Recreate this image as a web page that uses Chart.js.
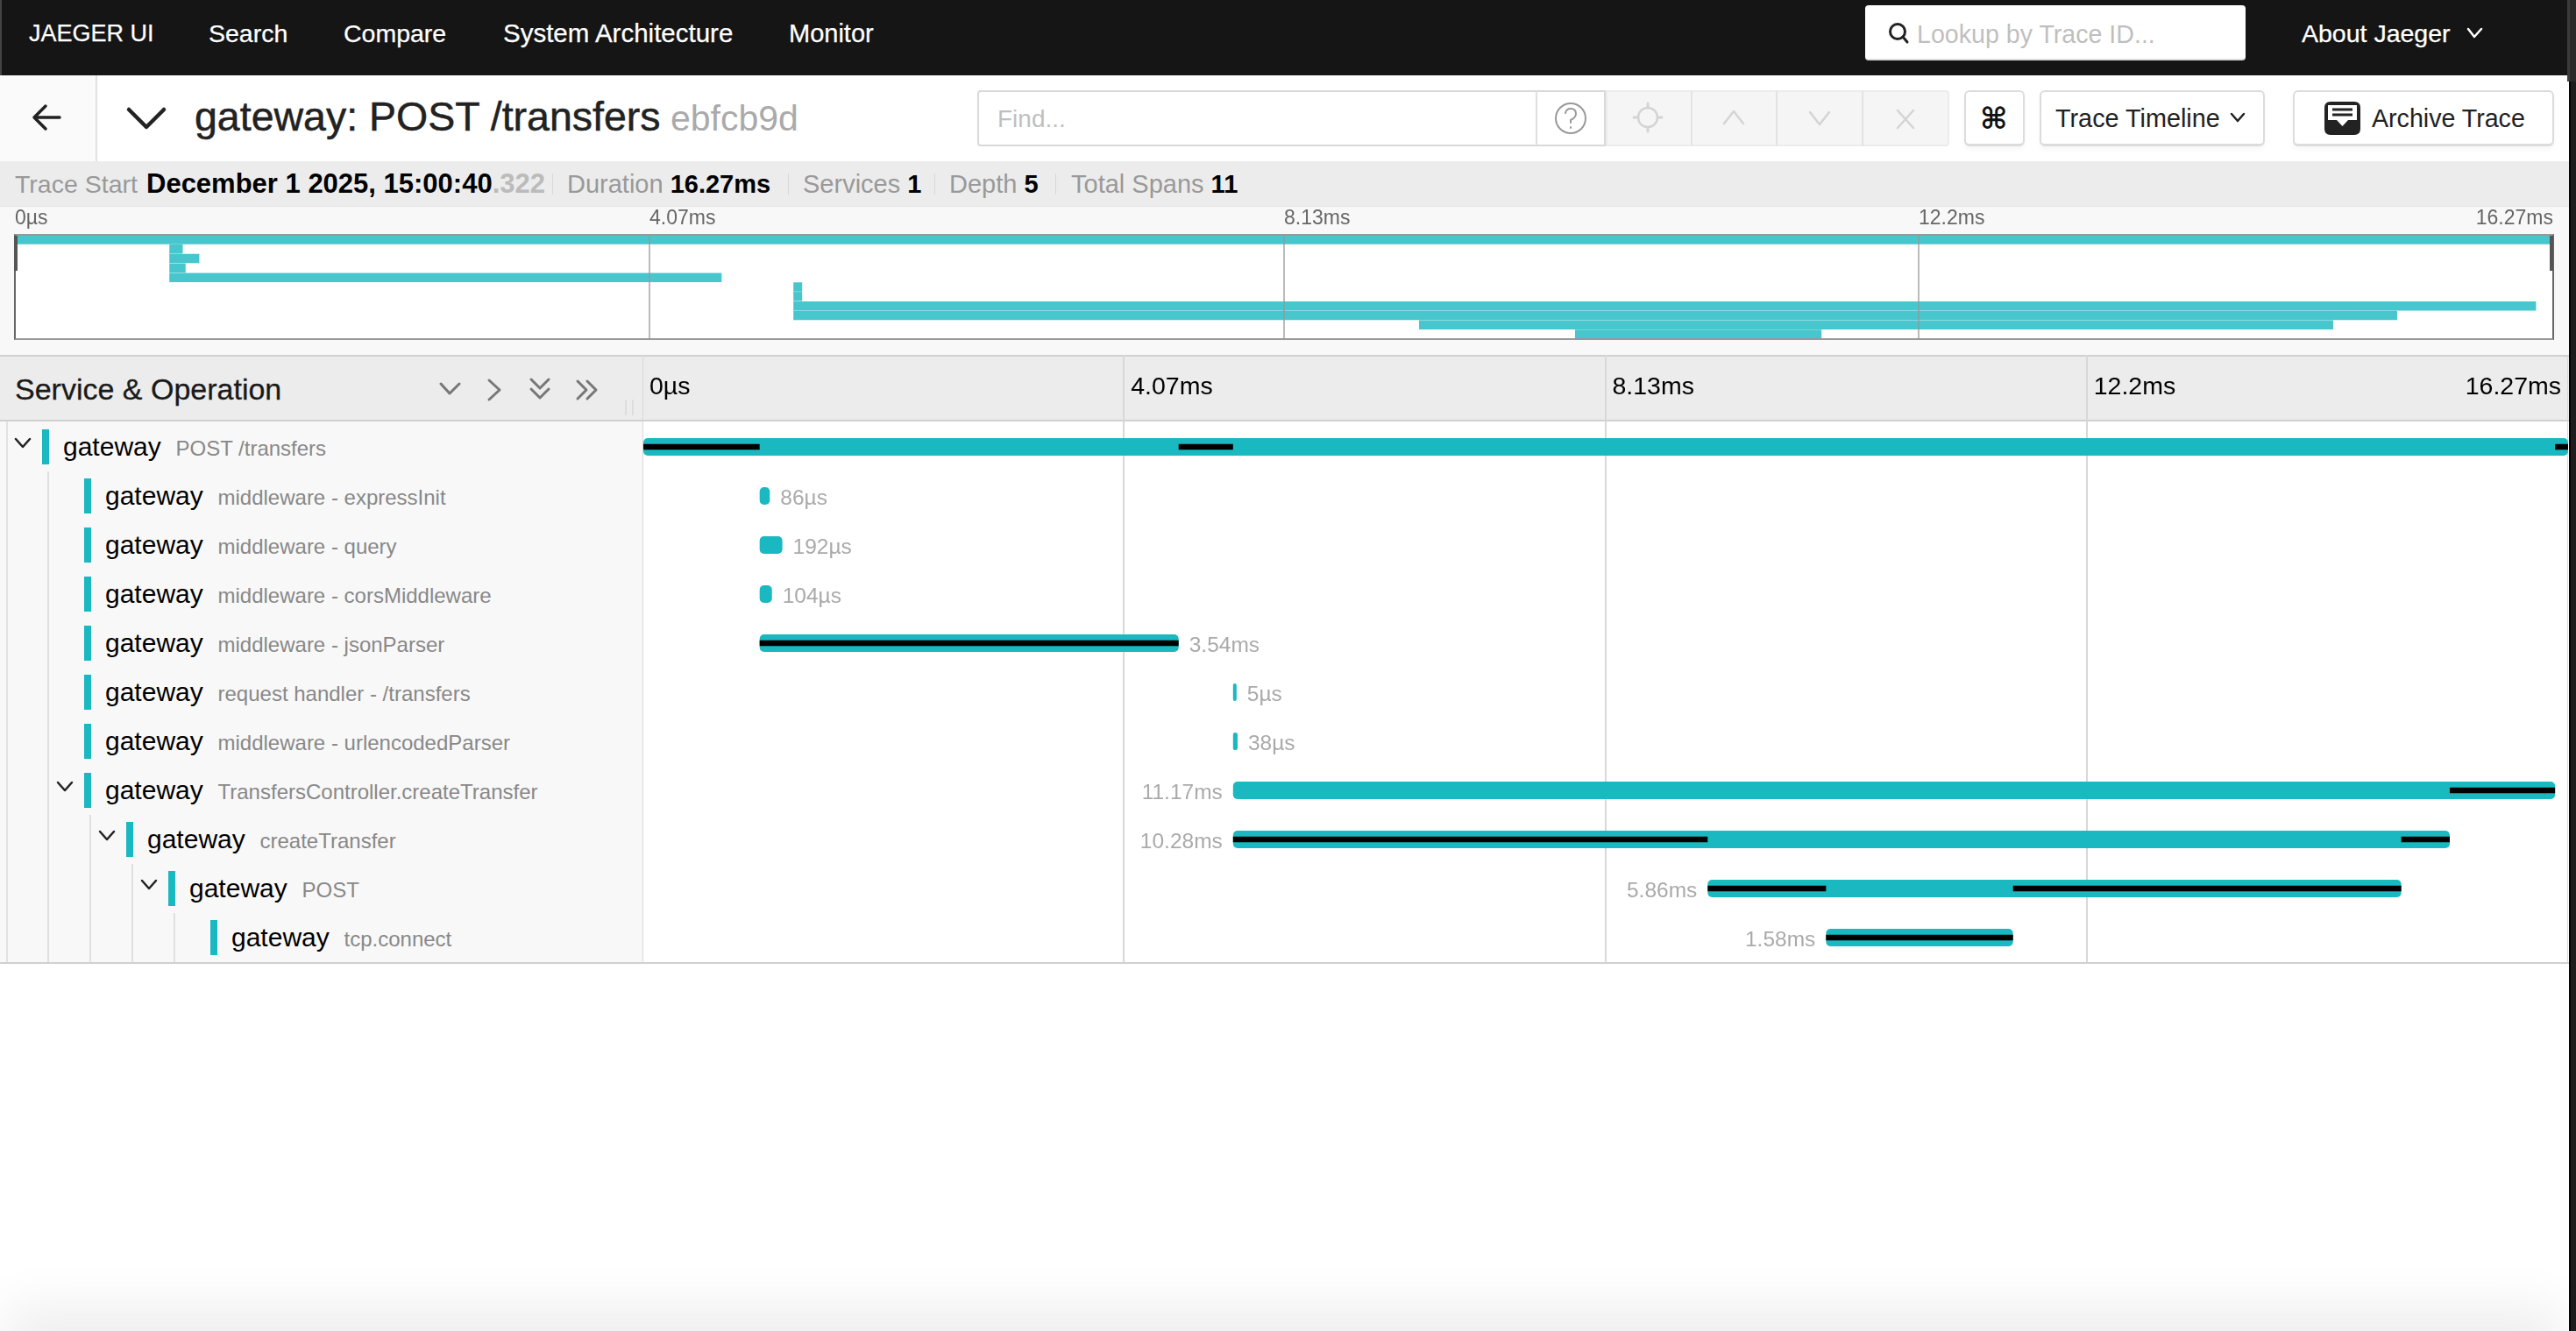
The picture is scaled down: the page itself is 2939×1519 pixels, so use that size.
<!DOCTYPE html>
<html>
<head>
<meta charset="utf-8">
<title>gateway: POST /transfers</title>
<script src="https://cdn.jsdelivr.net/npm/chart.js@4"></script>
<style>
  html, body { margin: 0; padding: 0; background: #fff; }
  body { position: relative; width: 2939px; height: 1519px; overflow: hidden; font-family: "Liberation Sans", sans-serif; color: #1a1a1a; }
  .box { position: absolute; box-sizing: border-box; }
  .t { position: absolute; white-space: nowrap; transform: translateY(-50%); line-height: 1.2; }
  .nav { font-size: 28.5px; color: #fff; top: 38px; -webkit-text-stroke: .25px #fff; }
  .sum { font-size: 29px; color: #999; top: 210px; }
  .sum b { color: #000; }
  .btn { position: absolute; box-sizing: border-box; top: 103px; height: 64px; background: #fff; border: 2px solid #dcdcdc; border-bottom-width: 3px; border-radius: 6px; box-shadow: 0 4px 5px rgba(0,0,0,.03); }
  .svc { font-size: 30px; color: #000; }
  .op { font-size: 24px; color: #888; }
  canvas { position: absolute; display: block; }
  svg { position: absolute; left: 0; top: 0; pointer-events: none; }
</style>
</head>
<body>
<!-- top nav -->
<div class="box" style="left:0;top:0;width:2929px;height:86px;background:#151515"></div>
<div class="t nav" style="left:33px;font-size:27px">JAEGER UI</div>
<div class="t nav" style="left:238px">Search</div>
<div class="t nav" style="left:392px">Compare</div>
<div class="t nav" style="left:574px;font-size:29.5px">System Architecture</div>
<div class="t nav" style="left:900px;font-size:29px">Monitor</div>
<div class="box" style="left:2128px;top:6px;width:434px;height:63px;background:#fff;border-radius:4px;border-bottom:2px solid #ddd"></div>
<div class="t" style="left:2187px;top:39px;font-size:28.6px;color:#bfbfbf">Lookup by Trace ID...</div>
<div class="t nav" style="left:2626px">About Jaeger</div>

<!-- trace header -->
<div class="box" style="left:0;top:86px;width:111px;height:98px;background:#fafafa;border-right:2px solid #e2e2e2"></div>
<div class="t" style="left:222px;top:134px;font-size:46.5px;color:#222;-webkit-text-stroke:.5px #222">gateway: POST /transfers</div>
<div class="t" style="left:765px;top:136px;font-size:41px;color:#aaa">ebfcb9d</div>
<div class="box" style="left:1115px;top:103px;width:717px;height:64px;background:#fff;border:2px solid #d9d9d9;border-radius:4px 0 0 4px"></div>
<div class="box" style="left:1752px;top:104px;width:2px;height:62px;background:#e0e0e0"></div>
<div class="t" style="left:1138px;top:136px;font-size:28px;color:#bfbfbf">Find...</div>
<div class="box" style="left:1832px;top:103px;width:392px;height:64px;background:#f5f5f5;border:2px solid #ececec;border-radius:0 4px 4px 0"></div>
<div class="box" style="left:1929px;top:104px;width:2px;height:62px;background:#e2e2e2"></div>
<div class="box" style="left:2026px;top:104px;width:2px;height:62px;background:#e2e2e2"></div>
<div class="box" style="left:2124px;top:104px;width:2px;height:62px;background:#e2e2e2"></div>
<div class="btn" style="left:2241px;width:69px"></div>
<div class="t" style="left:2259px;top:135px;font-family:'DejaVu Sans';font-size:34px;font-weight:bold;color:#111">⌘</div>
<div class="btn" style="left:2327px;width:257px"></div>
<div class="t" style="left:2345px;top:135px;font-size:28.8px;color:#222">Trace Timeline</div>
<div class="btn" style="left:2616px;width:298px"></div>
<div class="t" style="left:2706px;top:135px;font-size:28.6px;color:#222">Archive Trace</div>

<!-- summary row -->
<div class="box" style="left:0;top:184px;width:2931px;height:51px;background:#ececec"></div>
<div class="t sum" style="left:17px;font-size:28.5px">Trace Start</div>
<div class="t sum" style="left:167px;font-size:31px"><b>December 1 2025, 15:00:40</b><b style="color:#bbb">.322</b></div>
<div class="box" style="left:630px;top:198px;width:1px;height:24px;background:#d8d8d8"></div>
<div class="t sum" style="left:647px">Duration <b>16.27ms</b></div>
<div class="box" style="left:899px;top:198px;width:1px;height:24px;background:#d8d8d8"></div>
<div class="t sum" style="left:916px">Services <b>1</b></div>
<div class="box" style="left:1066px;top:198px;width:1px;height:24px;background:#d8d8d8"></div>
<div class="t sum" style="left:1083px">Depth <b>5</b></div>
<div class="box" style="left:1204px;top:198px;width:1px;height:24px;background:#d8d8d8"></div>
<div class="t sum" style="left:1222px">Total Spans <b>11</b></div>

<!-- minimap -->
<div class="box" style="left:0;top:235px;width:2931px;height:170px;background:#f8f8f8;border-top:1px solid #e4e4e4"></div>
<div class="box" style="left:17px;top:268px;width:2896px;height:120px;background:#fff"></div>
<canvas id="minimap" width="2896" height="152" style="left:17px;top:235px"></canvas>
<div class="box" style="left:16px;top:267px;width:2898px;height:121px;border:solid #999;border-width:2px;border-left-color:#666;border-right-color:#666"></div>
<div class="box" style="left:16px;top:269px;width:4px;height:40px;background:#555"></div>
<div class="box" style="left:2909px;top:269px;width:4px;height:40px;background:#555"></div>

<!-- timeline header and left pane -->
<div class="box" style="left:0;top:405px;width:2931px;height:76px;background:#ececec;border-top:2px solid #d0d0d0;border-bottom:2px solid #d0d0d0"></div>
<div class="t" style="left:17px;top:444px;font-size:34px;color:#1a1a1a;-webkit-text-stroke:.3px #1a1a1a">Service &amp; Operation</div>
<div class="box" style="left:0;top:481px;width:734px;height:618px;background:#f8f8f8"></div>
<div id="rows"></div>
<canvas id="timeline" width="2197" height="693" style="left:733px;top:405px"></canvas>
<div class="box" style="left:0;top:1098px;width:2931px;height:2px;background:#d0d0d0"></div>

<!-- right edge of the window and its shadow at the bottom -->
<div class="box" style="left:2931px;top:93px;width:8px;height:1426px;background:#1d1d1d;border-left:2px solid #050505"></div>
<div class="box" style="left:2929px;top:0;width:10px;height:93px;background:#2a2a2a;border-left:3px solid #3a3a3a"></div>
<div class="box" style="left:0;top:0;width:2px;height:86px;background:#444"></div>
<div class="box" style="left:40px;top:1525px;width:2850px;height:10px;box-shadow:0 0 60px 32px rgba(0,0,0,.075)"></div>

<svg id="icons" width="2939" height="1519" fill="none" stroke-linecap="round" stroke-linejoin="round">
  <!-- nav -->
  <circle cx="2165" cy="36" r="8.5" stroke="#222" stroke-width="3"/>
  <path d="M2171 42 L2176 48" stroke="#222" stroke-width="3"/>
  <path d="M2816 33 L2823 42 L2831 33" stroke="#fff" stroke-width="2.5"/>
  <!-- back arrow, collapse -->
  <path d="M68 134 H40 M52 121 L39 134 L52 147" stroke="#222" stroke-width="3.5"/>
  <path d="M147 125 L167 145 L187 125" stroke="#222" stroke-width="4.5"/>
  <!-- find help -->
  <circle cx="1792" cy="135" r="17" stroke="#999" stroke-width="2"/>
  <path d="M1786 129 Q1787 124 1792 124 Q1798 124 1798 130 Q1798 134 1792 137 V140 M1792 145 V146" stroke="#999" stroke-width="2"/>
  <!-- disabled toolbar -->
  <circle cx="1880" cy="134" r="11" stroke="#d4d4d4" stroke-width="2.5"/>
  <path d="M1880 118 V123 M1880 145 V150 M1864 134 H1869 M1891 134 H1896" stroke="#d4d4d4" stroke-width="3"/>
  <path d="M1967 141 L1978 127 L1989 141" stroke="#d4d4d4" stroke-width="2.5"/>
  <path d="M2065 128 L2076 142 L2087 128" stroke="#d4d4d4" stroke-width="2.5"/>
  <path d="M2165 126 L2183 146 M2183 126 L2165 146" stroke="#d4d4d4" stroke-width="2.5"/>
  <!-- trace timeline chevron, archive -->
  <path d="M2546 130 L2553 138 L2560 130" stroke="#222" stroke-width="2.5"/>
  <path d="M2652 147 V123 Q2652 116 2659 116 H2686 Q2693 116 2693 123 V147 Q2693 154 2686 154 H2659 Q2652 154 2652 147 Z" fill="#222" stroke="none"/>
  <path d="M2656 120 H2689 V137 H2679 L2672.5 144 L2666 137 H2656 Z" fill="#fff" stroke="none"/>
  <path d="M2661 125 H2684 M2661 131 H2684" stroke="#222" stroke-width="3" stroke-linecap="butt"/>
  <!-- timeline header controls -->
  <path d="M503 438 L513 449 L524 438" stroke="#777" stroke-width="3"/>
  <path d="M558 434 L570 445 L558 456" stroke="#777" stroke-width="3"/>
  <path d="M606 433 L616 443 L626 433 M606 444 L616 454 L626 444" stroke="#777" stroke-width="3"/>
  <path d="M659 435 L669 445 L659 455 M670 435 L680 445 L670 455" stroke="#777" stroke-width="3"/>
  <path d="M714 457 V473 M722 457 V473" stroke="#ddd" stroke-width="2"/>
  <g id="tree"></g>
</svg>

<script>
// Spans in tree order, times in ms from trace start.
const spanServices = ["gateway", "gateway", "gateway", "gateway", "gateway", "gateway", "gateway", "gateway", "gateway", "gateway", "gateway"];
const spanNames = [
  "POST /transfers",
  "middleware - expressInit",
  "middleware - query",
  "middleware - corsMiddleware",
  "middleware - jsonParser",
  "request handler - /transfers",
  "middleware - urlencodedParser",
  "TransfersController.createTransfer",
  "createTransfer",
  "POST",
  "tcp.connect",
];
const spanDepths = [0, 1, 1, 1, 1, 1, 1, 1, 2, 3, 4];
const spanStarts = [0, 0.99, 0.99, 0.99, 0.99, 4.99, 4.99, 4.99, 4.99, 9.0, 10.0];
const spanDurations = [16.27, 0.086, 0.192, 0.104, 3.54, 0.005, 0.038, 11.17, 10.28, 5.86, 1.58];
const durationLabels = ["", "86µs", "192µs", "104µs", "3.54ms", "5µs", "38µs", "11.17ms", "10.28ms", "5.86ms", "1.58ms"];

// Critical path segments (black lines over the span bars).
const criticalRows = [0, 0, 0, 4, 7, 8, 8, 9, 9, 10];
const criticalStarts = [0, 4.53, 16.16, 0.99, 15.27, 4.99, 14.86, 9.0, 11.58, 10.0];
const criticalEnds = [0.99, 4.99, 16.27, 4.53, 16.16, 9.0, 15.27, 10.0, 14.86, 11.58];

// Ticks are the quarters of the trace; the labels round them.
const tickValues = [0, 4.0675, 8.135, 12.2025, 16.27];
const tickLabels = ["0µs", "4.07ms", "8.13ms", "12.2ms", "16.27ms"];
const TRACE_END = 16.27;

const SPAN_COLOR = "#1ab8c0";
const MINI_COLOR = "#47c6cd";
const FONT = '"Liberation Sans", sans-serif';

// ── Left pane ─────────────────────────────────────────────────────

function renderRows() {
  const rows = document.getElementById("rows");
  const tree = document.getElementById("tree");
  let html = '<div class="box" style="left:7px;top:481px;width:2px;height:618px;background:#e2e2e2"></div>';
  let paths = "";
  spanNames.forEach((name, i) => {
    const depth = spanDepths[i];
    const y = 510 + 56 * i;
    const indent = 48 * depth;
    html += `<div class="box" style="left:${48 + indent}px;top:${y - 20}px;width:8px;height:40px;background:${SPAN_COLOR}"></div>`;
    html += `<div class="t svc" style="left:${72 + indent}px;top:${y}px">${spanServices[i]}</div>`;
    html += `<div class="t op" style="left:${200.5 + indent}px;top:${y + 2}px">${name}</div>`;
    if (spanDepths[i + 1] > depth) {
      paths += `<path d="M${18 + indent} ${y - 9} L${26 + indent} ${y} L${34 + indent} ${y - 9}" stroke="#222" stroke-width="2.5"/>`;
      html += `<div class="box" style="left:${54 + indent}px;top:${y + 28}px;width:2px;height:${1099 - y - 28}px;background:#e0e0e0"></div>`;
    }
  });
  rows.innerHTML = html;
  tree.innerHTML = paths;
}

// ── Charts ────────────────────────────────────────────────────────

// The last tick label sits inside the plot, ending at the right edge.
function lastTickInside(inset) {
  return {
    id: "lastTickInside",
    beforeDraw(chart) {
      const items = chart.scales.x.getLabelItems();
      const last = items[items.length - 1];
      last.options.textAlign = "right";
      last.options.translation[0] = chart.chartArea.right - inset;
    },
  };
}

const durationText = {
  id: "durationText",
  afterDatasetsDraw(chart) {
    const { ctx, scales } = chart;
    ctx.save();
    ctx.font = `24.5px ${FONT}`;
    ctx.fillStyle = "#aaa";
    ctx.textBaseline = "middle";
    durationLabels.forEach((label, i) => {
      if (!label) return;
      const start = spanStarts[i];
      const end = start + spanDurations[i];
      const y = scales.y.getPixelForValue(i) + 3;
      const onLeft = start > TRACE_END - end;
      ctx.textAlign = onLeft ? "right" : "left";
      const width = Math.max(scales.x.getPixelForValue(end) - scales.x.getPixelForValue(start), 4);
      const x = onLeft ? scales.x.getPixelForValue(start) - 12 : scales.x.getPixelForValue(start) + width + 12;
      ctx.fillText(label, x, y);
    });
    ctx.restore();
  },
};

function timeAxis(overrides) {
  return Object.assign({
    type: "linear",
    position: "top",
    min: 0,
    max: TRACE_END,
    border: { display: false },
    afterBuildTicks(scale) { scale.ticks = tickValues.map((value) => ({ value })); },
  }, overrides);
}

function spanBars() {
  return spanNames.map((name, i) => ({ x: [spanStarts[i], spanStarts[i] + spanDurations[i]], y: name }));
}

new Chart(document.getElementById("minimap"), {
  type: "bar",
  data: {
    labels: spanNames,
    datasets: [{
      data: spanBars(),
      backgroundColor: MINI_COLOR,
      barPercentage: 1,
      categoryPercentage: 0.97,
      minBarLength: 10,
      inflateAmount: 0,
    }],
  },
  options: {
    indexAxis: "y",
    responsive: false,
    animation: false,
    devicePixelRatio: 1,
    plugins: { legend: { display: false }, tooltip: { enabled: false } },
    layout: { padding: 0 },
    scales: {
      x: timeAxis({
        grid: { color: "rgba(150,150,150,0.65)", lineWidth: 2, z: 1, drawTicks: false },
        ticks: { color: "#666", font: { family: FONT, size: 23 }, align: "start", padding: 5, autoSkip: false, maxRotation: 0, minRotation: 0,
          callback: (v, i) => tickLabels[i] },
        afterFit(scale) { scale.height = 33; scale.paddingLeft = 0; scale.paddingRight = 0; },
      }),
      y: { type: "category", display: false, offset: true },
    },
  },
  plugins: [lastTickInside(0)],
});

new Chart(document.getElementById("timeline"), {
  type: "bar",
  data: {
    labels: spanNames,
    datasets: [{
      label: "critical path",
      data: criticalRows.map((row, i) => ({ x: [criticalStarts[i], criticalEnds[i]], y: spanNames[row] })),
      backgroundColor: "#000",
      barThickness: 6.5,
      grouped: false,
      inflateAmount: 0,
      order: 1,
    }, {
      label: "spans",
      data: spanBars(),
      backgroundColor: SPAN_COLOR,
      barThickness: 20,
      grouped: false,
      borderRadius: 5,
      borderSkipped: false,
      minBarLength: 4,
      inflateAmount: 0,
      order: 2,
    }],
  },
  options: {
    indexAxis: "y",
    responsive: false,
    animation: false,
    devicePixelRatio: 1,
    plugins: { legend: { display: false }, tooltip: { enabled: false } },
    layout: { padding: 0 },
    scales: {
      x: timeAxis({
        grid: { color: "#d8d8d8", lineWidth: 2, tickColor: "#d8d8d8", tickLength: 77 },
        ticks: { color: "#000", font: { family: FONT, size: 28.5 }, align: "start", labelOffset: 8, padding: -54, autoSkip: false, maxRotation: 0, minRotation: 0,
          callback: (v, i) => tickLabels[i] },
        afterFit(scale) { scale.height = 77; scale.paddingLeft = 0; scale.paddingRight = 0; },
      }),
      y: { type: "category", display: false, offset: true },
    },
  },
  plugins: [lastTickInside(8), durationText],
});

renderRows();
</script>
</body>
</html>
